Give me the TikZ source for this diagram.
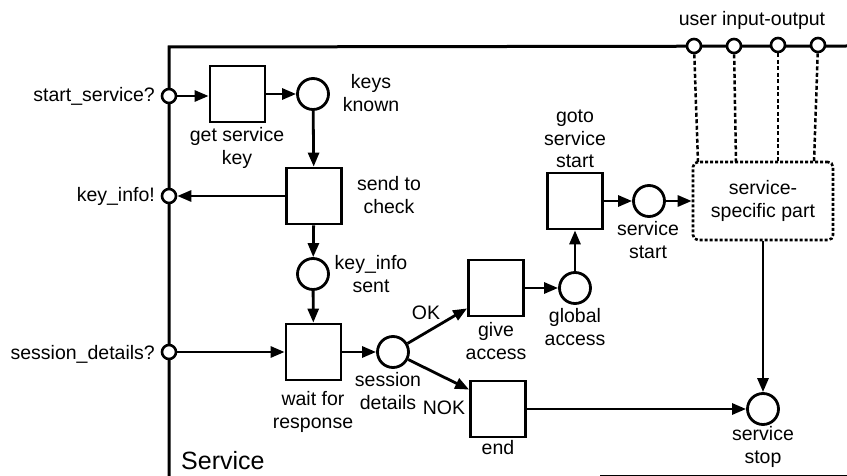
\documentclass[tikz,border=0pt]{standalone}
\usepackage{fontspec}
\setmainfont{Liberation Sans}
\usetikzlibrary{arrows.meta,calc}
\begin{document}
\begin{tikzpicture}[x=1pt,y=-1pt,
  every node/.style={font=\fontsize{19.5}{22.5}\selectfont},
  place/.style={circle,draw,line width=2.8pt,minimum size=31pt,inner sep=0pt},
  trans/.style={rectangle,draw,line width=2.8pt,minimum width=55pt,minimum height=56pt,inner sep=0pt},
  port/.style={circle,draw,fill=white,line width=2.6pt,minimum size=14pt,inner sep=0pt},
  lbl/.style={align=center,inner sep=0pt},
  arr/.style={line width=2.8pt,-{Triangle[length=14pt,width=11pt]}},
  dsh/.style={line width=2.5pt,dash pattern=on 4pt off 2.5pt},
]
\useasboundingbox (0,0) rectangle (847,476);
% frame
\draw[line width=3pt] (847,46) -- (169,47) -- (169,480);
\draw[line width=3pt] (600,476) -- (847,476);
\node[anchor=base west,inner sep=0pt,font=\fontsize{25}{28}\selectfont] (svc) at (181,469) {Service};
% ports
\node[port] (p1) at (169,96) {};
\node[port] (p2) at (169,196) {};
\node[port] (p3) at (169,352) {};
\node[port] (u1) at (694,46) {};
\node[port] (u2) at (734,46) {};
\node[port] (u3) at (778,45) {};
\node[port] (u4) at (818,45) {};
\node[anchor=base east,inner sep=0pt] (lp1) at (155,102) {start\_service?};
\node[anchor=base east,inner sep=0pt] (lp2) at (155,202) {key\_info!};
\node[anchor=base east,inner sep=0pt] (lp3) at (155,359) {session\_details?};
\node[lbl] (luio) at (752,20) {user input-output};
% transitions
\node[trans] (t1) at (237.5,94) {};
\node[trans] (t2) at (314,196) {};
\node[trans] (t3) at (313.5,352) {};
\node[trans] (t4) at (496,288) {};
\node[trans] (t5) at (498,409) {};
\node[trans] (t6) at (575,201) {};
% places
\node[place] (s1) at (313,94) {};
\node[place] (s2) at (313,274) {};
\node[place] (s3) at (393,352) {};
\node[place] (s4) at (575,288) {};
\node[place] (s5) at (649,201) {};
\node[place] (s6) at (763,409) {};
% service-specific part
\node[draw,rounded corners=5pt,line width=2.6pt,dash pattern=on 3pt off 2pt,minimum width=140pt,minimum height=78pt,align=center,inner sep=0pt] (ssp) at (763,201) {service-\\specific part};
\coordinate (d1) at (698,162);
\coordinate (d2) at (736,162);
\coordinate (d3) at (778,162);
\coordinate (d4) at (814,162);
\draw[dsh] (u1) -- (d1);
\draw[dsh] (u2) -- (d2);
\draw[dsh] (u3) -- (d3);
\draw[dsh] (u4) -- (d4);
% labels
\node[lbl] at (237,148) {get service\\key};
\node[lbl] at (371,93) {keys\\known};
\node[lbl] at (389,195) {send to\\check};
\node[lbl] at (371,274) {key\_info\\sent};
\node[lbl] at (313,412) {wait for\\response};
\node[lbl] at (388,391) {session\\details};
\node[lbl] at (496,341) {give\\access};
\node[lbl] at (498,448) {end};
\node[lbl] at (575,327) {global\\access};
\node[lbl] at (575,139) {goto\\service\\start};
\node[lbl] at (648,240) {service\\start};
\node[lbl] at (763,447) {service\\stop};
\node[lbl] at (426,313) {OK};
\node[lbl] at (444,408) {NOK};
% arcs
\draw[arr] (p1) -- (p1 -| t1.west);
\draw[arr] (t1) -- (s1);
\draw[arr] (s1) -- (t2);
\draw[arr] (t2.west) -- (p2);
\draw[arr] (t2) -- (s2);
\draw[arr] (s2) -- (t3);
\draw[arr] (p3) -- (t3.west);
\draw[arr] (t3) -- (s3);
\draw[arr] (s3) -- ($(t4.south west)+(0,-9)$);
\draw[arr] (s3) -- ($(t5.north west)+(0,10)$);
\draw[arr] (t4) -- (s4);
\draw[arr] (s4) -- (t6);
\draw[arr] (t6) -- (s5);
\draw[arr] (s5) -- (ssp.west);
\draw[arr] (ssp.south) -- (s6);
\draw[arr] (t5) -- (s6);
\end{tikzpicture}
\end{document}
